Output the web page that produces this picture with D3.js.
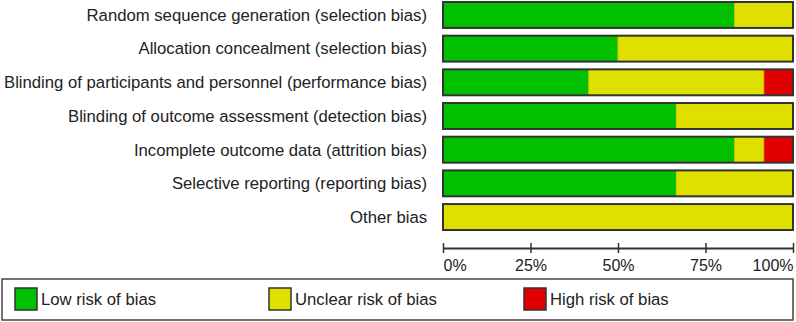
<!DOCTYPE html>
<html>
<head>
<meta charset="utf-8">
<style>
    body { margin: 0; background: #fff; }
    text { font-family: "Liberation Sans", Arial, sans-serif; fill: #222; }
</style>
</head>
<body></body>

<script src='https://d3js.org/d3.v7.min.js'></script>
<script>
    // risk of bias domains, number of studies (12 in total) per judgement
    const domains = [
        "Random sequence generation (selection bias)",
        "Allocation concealment (selection bias)",
        "Blinding of participants and personnel (performance bias)",
        "Blinding of outcome assessment (detection bias)",
        "Incomplete outcome data (attrition bias)",
        "Selective reporting (reporting bias)",
        "Other bias"
    ];
    const lowRisk = [10, 6, 5, 8, 10, 8, 0];
    const unclearRisk = [2, 6, 6, 4, 1, 4, 12];
    const highRisk = [0, 0, 1, 0, 1, 0, 0];
    const judgements = ["Low risk of bias", "Unclear risk of bias", "High risk of bias"];
    const colors = ["#00c000", "#e0e000", "#e00000"];
    const ticks = [0, 0.25, 0.5, 0.75, 1];

    const width = 796;
    const height = 322;
    const labelSize = "16.7px";

    var svg = d3.select("body")
        .append("svg")
        .attr("width", width)
        .attr("height", height);

    var x_scale = d3.scaleLinear()
        .domain([0, 1])
        .range([443, 793]);
    var y_scale = d3.scaleBand()
        .domain(domains)
        .range([2, 230])
        .paddingInner(0.23)
        .paddingOuter(0);

    // stack the proportions
    const rows = domains.map(function (d, i) {
        const n = lowRisk[i] + unclearRisk[i] + highRisk[i];
        return { name: d, vals: [lowRisk[i] / n, unclearRisk[i] / n, highRisk[i] / n] };
    });

    var g = svg.selectAll("g.row")
        .data(rows)
        .enter()
        .append("g")
        .attr("class", "row")
        .attr("transform", function (d) { return "translate(0," + y_scale(d.name) + ")"; });

    g.each(function (d) {
        var sel = d3.select(this);
        var start = 0;
        d.vals.forEach(function (v, k) {
            if (v > 0) {
                sel.append("rect")
                    .attr("x", x_scale(start))
                    .attr("width", x_scale(start + v) - x_scale(start))
                    .attr("y", 0)
                    .attr("height", y_scale.bandwidth())
                    .attr("fill", colors[k])
                    .attr("stroke", k == 0 ? "#80d000" : "#c8c800")
                    .attr("stroke-width", 0.8);
            }
            start += v;
        });
        // outline
        sel.append("rect")
            .attr("x", x_scale(0))
            .attr("width", x_scale(1) - x_scale(0))
            .attr("y", 0)
            .attr("height", y_scale.bandwidth())
            .attr("fill", "none")
            .attr("stroke", "#333")
            .attr("stroke-width", 2);
    });

    g.append("text")
        .attr("x", 427)
        .attr("y", y_scale.bandwidth() / 2)
        .attr("dy", ".35em")
        .style("text-anchor", "end")
        .style("font-size", labelSize)
        .text(function (d) { return d.name; });

    // axis with ticks up and down
    var x_axis_bottom = d3.axisBottom()
        .scale(x_scale)
        .tickValues(ticks)
        .tickFormat(d3.format(".0%"))
        .tickSizeOuter(0);
    var ax = svg.append("g")
        .attr("transform", "translate(0,248)")
        .call(x_axis_bottom);
    ax.select(".domain").attr("stroke", "#333").attr("stroke-width", 2);
    ax.selectAll(".tick line").attr("y1", -5).attr("y2", 5).attr("stroke", "#333").attr("stroke-width", 1.5);
    ax.selectAll(".tick text")
        .attr("y", 0)
        .attr("dy", "23px")
        .style("font-family", "'Liberation Sans', Arial, sans-serif")
        .style("font-size", "16px")
        .attr("fill", "#222")
        .style("text-anchor", function (d, i) { return i == 0 ? "start" : (i == ticks.length - 1 ? "end" : "middle"); });

    // legend
    svg.append("rect")
        .attr("x", 2)
        .attr("y", 279)
        .attr("width", 791)
        .attr("height", 41)
        .attr("fill", "none")
        .attr("stroke", "#444")
        .attr("stroke-width", 1.5);

    const legendX = [15, 269, 524];
    var lg = svg.selectAll("g.legend")
        .data(judgements)
        .enter()
        .append("g")
        .attr("class", "legend")
        .attr("transform", function (d, i) { return "translate(" + legendX[i] + ",288)"; });
    lg.append("rect")
        .attr("width", 22)
        .attr("height", 22)
        .attr("fill", function (d, i) { return colors[i]; })
        .attr("stroke", "#333")
        .attr("stroke-width", 1.5);
    lg.append("text")
        .attr("x", 26)
        .attr("y", 11)
        .attr("dy", ".35em")
        .style("font-size", labelSize)
        .text(function (d) { return d; });
</script>
</html>
